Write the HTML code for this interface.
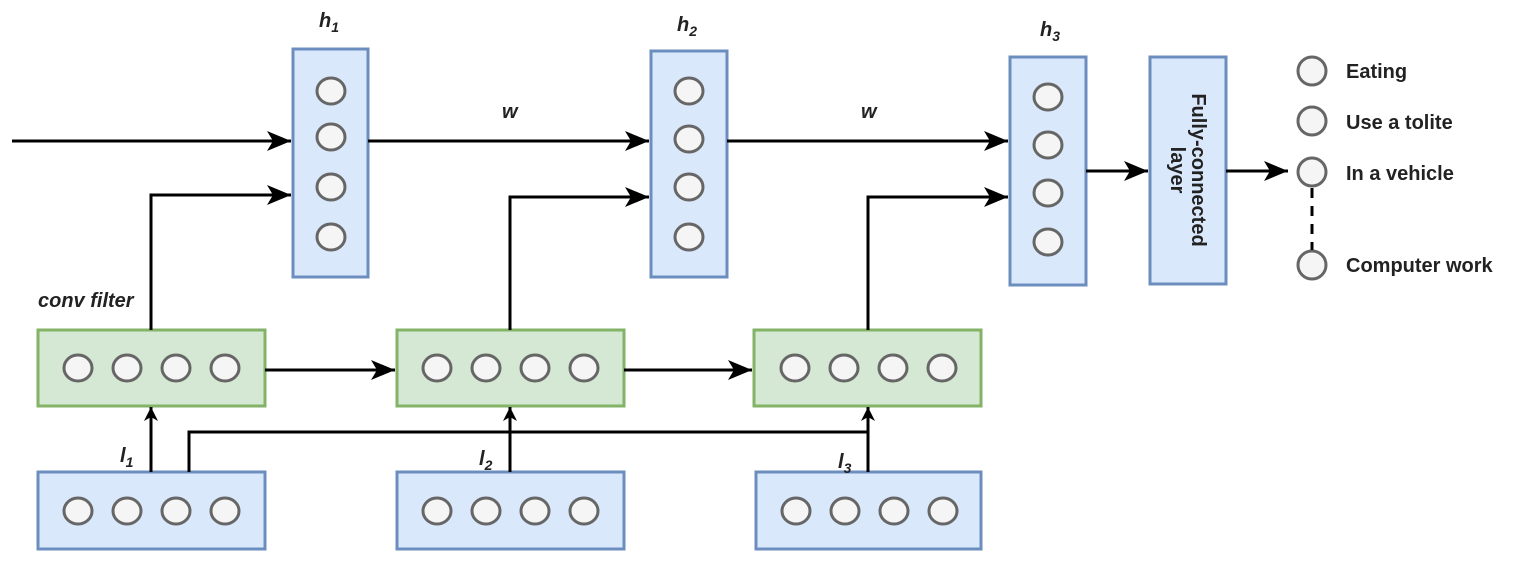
<!DOCTYPE html>
<html><head><style>body{margin:0;background:#fff}</style></head><body>
<svg width="1523" height="564" viewBox="0 0 1523 564" xmlns="http://www.w3.org/2000/svg" font-family="Liberation Sans, sans-serif">
<defs><marker id="a" markerWidth="14" markerHeight="14" refX="14" refY="7" orient="auto" markerUnits="userSpaceOnUse"><path d="M0,0 L14,7 L0,14 L4,7 z" fill="#000"/></marker>
<marker id="b" markerWidth="24" markerHeight="20" refX="24" refY="10" orient="auto" markerUnits="userSpaceOnUse"><path d="M0,0 L24,10 L0,20 L6,10 z" fill="#000"/></marker></defs>
<g fill="#dae8fc" stroke="#6c8ebf" stroke-width="3">
<rect x="293" y="49" width="75" height="228"/><rect x="651" y="51" width="76" height="226"/><rect x="1010" y="57" width="76" height="228"/><rect x="1150" y="57" width="76" height="227"/>
<rect x="38" y="472" width="227" height="77"/><rect x="397" y="472" width="227" height="77"/><rect x="756" y="472" width="225" height="77"/>
</g>
<g fill="#d5e8d4" stroke="#82b366" stroke-width="3">
<rect x="38" y="330" width="227" height="76"/><rect x="397" y="330" width="227" height="76"/><rect x="754" y="330" width="227" height="76"/>
</g>
<g fill="#f5f5f5" stroke="#666" stroke-width="3">
<ellipse cx="331" cy="91" rx="14" ry="13"/><ellipse cx="331" cy="137" rx="14" ry="13"/><ellipse cx="331" cy="187" rx="14" ry="13"/><ellipse cx="331" cy="237" rx="14" ry="13"/>
<ellipse cx="689" cy="91" rx="14" ry="13"/><ellipse cx="689" cy="139" rx="14" ry="13"/><ellipse cx="689" cy="187" rx="14" ry="13"/><ellipse cx="689" cy="237" rx="14" ry="13"/>
<ellipse cx="1048" cy="97" rx="14" ry="13"/><ellipse cx="1048" cy="145" rx="14" ry="13"/><ellipse cx="1048" cy="193" rx="14" ry="13"/><ellipse cx="1048" cy="242" rx="14" ry="13"/>
<g id="r"><ellipse cx="78" cy="368" rx="14" ry="13"/><ellipse cx="127" cy="368" rx="14" ry="13"/><ellipse cx="176" cy="368" rx="14" ry="13"/><ellipse cx="225" cy="368" rx="14" ry="13"/></g>
<use href="#r" x="359"/><use href="#r" x="717"/>
<use href="#r" y="143"/><use href="#r" x="359" y="143"/><use href="#r" x="718" y="143"/>
<circle cx="1312" cy="71" r="14"/><circle cx="1312" cy="121" r="14"/><circle cx="1312" cy="172" r="14"/><circle cx="1312" cy="265" r="14"/>
</g>
<g stroke="#000" stroke-width="3" fill="none">
<line x1="12" y1="141" x2="291" y2="141" marker-end="url(#b)"/>
<polyline points="151,330 151,195 291,195" marker-end="url(#b)"/>
<line x1="368" y1="141" x2="649" y2="141" marker-end="url(#b)"/>
<polyline points="510,330 510,197 649,197" marker-end="url(#b)"/>
<line x1="727" y1="141" x2="1008" y2="141" marker-end="url(#b)"/>
<polyline points="868,330 868,197 1008,197" marker-end="url(#b)"/>
<line x1="1086" y1="171" x2="1148" y2="171" marker-end="url(#b)"/>
<line x1="1226" y1="171" x2="1288" y2="171" marker-end="url(#b)"/>
<line x1="265" y1="370" x2="395" y2="370" marker-end="url(#b)"/>
<line x1="624" y1="370" x2="752" y2="370" marker-end="url(#b)"/>
<line x1="151" y1="472" x2="151" y2="407" marker-end="url(#a)"/>
<line x1="510" y1="472" x2="510" y2="407" marker-end="url(#a)"/>
<line x1="868" y1="472" x2="868" y2="407" marker-end="url(#a)"/>
<polyline points="189,472 189,432 868,432"/>
<line x1="1312" y1="188" x2="1312" y2="250" stroke-dasharray="10,8"/>
</g>
<g font-style="italic" font-weight="bold" font-size="20" fill="#222">
<text x="319" y="27">h<tspan font-size="14" dy="5">1</tspan></text>
<text x="677" y="31">h<tspan font-size="14" dy="5">2</tspan></text>
<text x="1040" y="36">h<tspan font-size="14" dy="5">3</tspan></text>
<text x="502" y="118">w</text><text x="861" y="118">w</text>
<text x="38" y="307">conv filter</text>
<text x="120" y="462">l<tspan font-size="14" dy="5">1</tspan></text>
<text x="479" y="465">l<tspan font-size="14" dy="5">2</tspan></text>
<text x="838" y="468">l<tspan font-size="14" dy="5">3</tspan></text>
</g>
<g font-weight="bold" font-size="20" fill="#222">
<text x="1346" y="78">Eating</text><text x="1346" y="129">Use a tolite</text><text x="1346" y="180">In a vehicle</text><text x="1346" y="272">Computer work</text>
<g transform="translate(1188,170) rotate(90)" text-anchor="middle"><text x="0" y="-4">Fully-connected</text><text x="0" y="17">layer</text></g>
</g>
</svg>
</body></html>
